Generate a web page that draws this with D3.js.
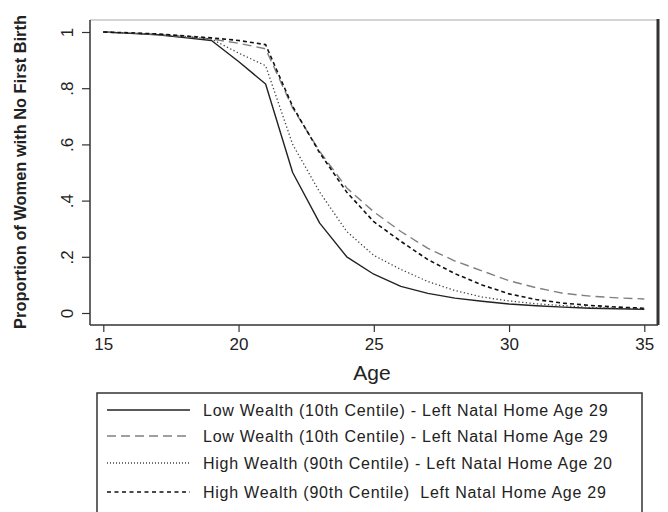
<!DOCTYPE html>
<html>
<head>
<meta charset="utf-8">
<script src="https://cdn.jsdelivr.net/npm/d3@7"></script>
<style>
  body { margin: 0; background: #fff; }
  text { font-family: "Liberation Sans", Arial, sans-serif; fill: #222; }
  .axis path { display: none; }
  .axis line { stroke: #333; stroke-width: 1.2; }
</style>
</head>
<body>
<script>
// values (proportion with no first birth, by age)
var ages = [15, 16, 17, 18, 19, 20, 21, 22, 23, 24, 25, 26, 27, 28, 29, 30, 31, 32, 33, 34, 35];
var lowWealthA  = [1, 0.995, 0.99, 0.98, 0.97, 0.895, 0.815, 0.50, 0.32, 0.20, 0.138, 0.095, 0.07, 0.053, 0.042, 0.032, 0.026, 0.021, 0.017, 0.015, 0.013];
var lowWealthB  = [1, 0.996, 0.991, 0.984, 0.975, 0.96, 0.94, 0.73, 0.575, 0.445, 0.36, 0.29, 0.23, 0.185, 0.15, 0.115, 0.09, 0.07, 0.06, 0.054, 0.05];
var highWealth20 = [1, 0.996, 0.991, 0.984, 0.975, 0.925, 0.88, 0.60, 0.43, 0.29, 0.205, 0.155, 0.112, 0.08, 0.057, 0.043, 0.033, 0.026, 0.02, 0.017, 0.015];
var highWealth29 = [1, 0.997, 0.993, 0.986, 0.979, 0.97, 0.955, 0.735, 0.57, 0.43, 0.325, 0.255, 0.19, 0.14, 0.10, 0.068, 0.048, 0.035, 0.027, 0.021, 0.017];

var xTicks = [15, 20, 25, 30, 35];
var yTicks = [0, 0.2, 0.4, 0.6, 0.8, 1];
var yTickLabels = ["0", ".2", ".4", ".6", ".8", "1"];

var legendLabels = [
  "Low Wealth (10th Centile) - Left Natal Home Age 29",
  "Low Wealth (10th Centile) - Left Natal Home Age 29",
  "High Wealth (90th Centile) - Left Natal Home Age 20",
  "High Wealth (90th Centile)  Left Natal Home Age 29"
];

var width = 668, height = 512;
var svg = d3.select("body").append("svg")
  .attr("width", width)
  .attr("height", height);

// plot frame
const frame = { left: 90, top: 20, right: 658, bottom: 325 };

let x = d3.scaleLinear()
  .domain([15, 35])
  .range([103.3, 644.3]);

let y = d3.scaleLinear()
  .domain([0, 1])
  .range([313, 32]);

// line styles for each series
var series = [
  { values: lowWealthA,   stroke: "#222", width: 1.4, dash: null,    legDash: null },
  { values: lowWealthB,   stroke: "#808080", width: 1.4, dash: "9,5", legDash: "9,5" },
  { values: highWealth20, stroke: "#444", width: 1.3, dash: "1.3,2.4", legDash: "1,2" },
  { values: highWealth29, stroke: "#111", width: 1.6, dash: "4,3",  legDash: "4,3.5" }
];

// frame borders
svg.append("line").attr("x1", frame.left).attr("x2", frame.right)
  .attr("y1", frame.top).attr("y2", frame.top)
  .style("stroke", "#aaa").style("stroke-width", 1.2);
svg.append("line").attr("x1", frame.left).attr("x2", frame.right)
  .attr("y1", frame.bottom).attr("y2", frame.bottom)
  .style("stroke", "#333").style("stroke-width", 1.5);
svg.append("line").attr("x1", frame.left).attr("x2", frame.left)
  .attr("y1", frame.top).attr("y2", frame.bottom)
  .style("stroke", "#333").style("stroke-width", 1.5);
svg.append("line").attr("x1", frame.right).attr("x2", frame.right)
  .attr("y1", frame.top - 1).attr("y2", frame.bottom)
  .style("stroke", "#333").style("stroke-width", 3);

// x axis
let xAxis = d3.axisBottom(x)
  .tickValues(xTicks)
  .tickSize(7)
  .tickPadding(6)
  .tickFormat(d3.format("d"));

svg.append("g")
  .attr("class", "axis xAxis")
  .attr("transform", `translate(0, ${frame.bottom})`)
  .call(xAxis)
  .selectAll("text")
  .style("font-size", "17px");

// y axis, labels turned sideways
let yAxis = d3.axisLeft(y)
  .tickValues(yTicks)
  .tickSize(8)
  .tickFormat((d, i) => yTickLabels[i]);

svg.append("g")
  .attr("class", "axis yAxis")
  .attr("transform", `translate(${frame.left}, 0)`)
  .call(yAxis)
  .selectAll("text")
  .attr("x", 0)
  .attr("dy", 0)
  .attr("transform", "translate(-17,0) rotate(-90)")
  .style("text-anchor", "middle")
  .style("font-size", "17px");

// axis titles
svg.append("text")
  .attr("transform", "translate(26,172) rotate(-90)")
  .style("text-anchor", "middle")
  .style("font-size", "16.4px")
  .style("font-weight", "bold")
  .text("Proportion of Women with No First Birth");

svg.append("text")
  .attr("x", 372)
  .attr("y", 380)
  .style("text-anchor", "middle")
  .style("font-size", "21px")
  .text("Age");

// curves
let line = d3.line()
  .x((d, i) => x(ages[i]))
  .y(d => y(d));

svg.selectAll("path.curve")
  .data(series)
  .enter()
  .append("path")
  .attr("class", "curve")
  .attr("d", d => line(d.values))
  .style("fill", "none")
  .style("stroke", d => d.stroke)
  .style("stroke-width", d => d.width)
  .style("stroke-linejoin", "round")
  .style("stroke-dasharray", d => d.dash);

// legend
let legend = svg.append("g").attr("class", "legend");

legend.append("rect")
  .attr("x", 97)
  .attr("y", 393)
  .attr("width", 545)
  .attr("height", 140)
  .style("fill", "none")
  .style("stroke", "#333")
  .style("stroke-width", 1.5);

var legendRows = [410, 436, 463, 492];

legend.selectAll("line.key")
  .data(series)
  .enter()
  .append("line")
  .attr("class", "key")
  .attr("x1", 107)
  .attr("x2", 190)
  .attr("y1", (d, i) => legendRows[i])
  .attr("y2", (d, i) => legendRows[i])
  .style("stroke", d => d.stroke)
  .style("stroke-width", d => d.width)
  .style("stroke-dasharray", d => d.legDash);

legend.selectAll("text.legLabel")
  .data(legendLabels)
  .enter()
  .append("text")
  .attr("class", "legLabel")
  .attr("x", 203)
  .attr("y", (d, i) => legendRows[i] + 6)
  .style("font-size", "16px")
  .style("letter-spacing", "0.75px")
  .style("white-space", "pre")
  .text(d => d);
</script>
</body>
</html>
